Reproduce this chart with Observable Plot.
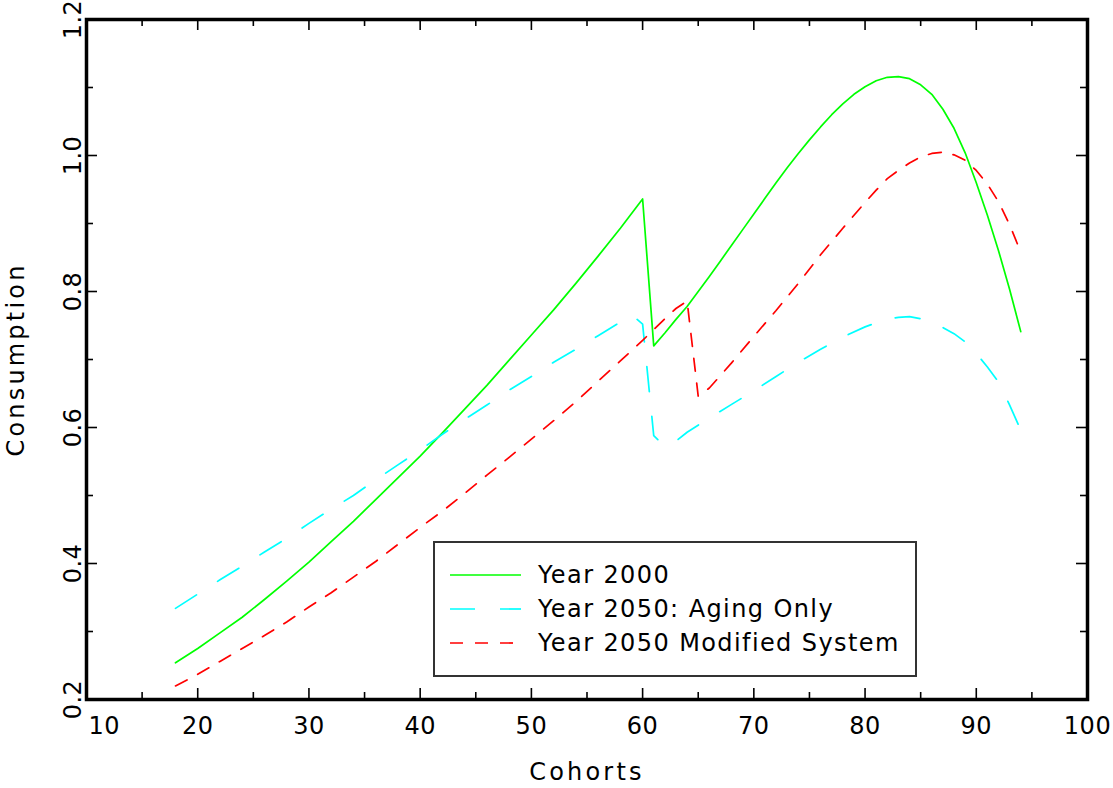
<!DOCTYPE html>
<html>
<head>
<meta charset="utf-8">
<script src="https://cdn.jsdelivr.net/npm/d3@7"></script>
<script src="https://cdn.jsdelivr.net/npm/@observablehq/plot@0.6"></script>
<style>
  body { margin: 0; background: #fff; }
  #wrap { position: relative; width: 1113px; height: 788px; }
  #legend { position: absolute; left: 433px; top: 541px; width: 484px; height: 136px; box-sizing: border-box;
            border: 2px solid #333; background: #fff; font-family: "DejaVu Sans", sans-serif; font-size: 24px; color: #000; }
  .row { position: absolute; left: 0; height: 30px; }
  .row svg { position: absolute; left: 15px; }
  .row span { position: absolute; left: 103px; white-space: nowrap; letter-spacing: 1.4px; line-height: 30px; }
</style>
</head>
<body>
<div id="wrap"><div id="chart"></div><div id="legend"></div></div>
<script>
// ---- data ----
const seriesNames = ["Year 2000", "Year 2050: Aging Only", "Year 2050 Modified System"];

const year2000Ages   = [18,20,22,24,26,28,30,32,34,36,38,40,42,44,46,48,50,52,54,56,58,60,61,62,63,64,65,66,67,68,69,70,71,72,73,74,75,76,77,78,79,80,81,82,83,84,85,86,87,88,89,90,91,92,93,94];
const year2000Values = [0.254,0.275,0.298,0.321,0.347,0.374,0.402,0.432,0.462,0.494,0.526,0.558,0.592,0.627,0.662,0.699,0.736,0.773,0.812,0.852,0.893,0.936,
                        0.720,0.739,0.759,0.778,0.800,0.822,0.845,0.868,0.891,0.914,0.937,0.960,0.982,1.003,1.023,1.042,1.060,1.076,1.090,1.101,1.110,1.115,1.116,1.113,1.104,1.090,1.068,1.040,1.004,0.960,0.912,0.860,0.803,0.741];

const aging2050Ages   = [18,20,22,24,26,28,30,32,34,36,38,40,42,44,46,48,50,52,54,56,58,59,60,61,62,63,64,66,68,70,72,74,76,78,80,81,82,83,84,85,86,87,88,89,90,91,92,93,94];
const aging2050Values = [0.334,0.355,0.376,0.396,0.417,0.437,0.459,0.480,0.500,0.523,0.545,0.567,0.590,0.612,0.633,0.655,0.675,0.696,0.715,0.735,0.755,0.766,0.752,0.588,0.572,0.580,0.593,0.614,0.634,0.654,0.675,0.696,0.715,0.733,0.748,0.754,0.759,0.762,0.763,0.760,0.755,0.747,0.738,0.726,0.709,0.689,0.667,0.633,0.596];

const modified2050Ages   = [18,20,22,24,26,28,30,32,34,36,38,40,42,44,46,48,50,52,54,56,58,60,62,63,64,65,66,68,70,72,74,76,78,80,81,82,83,84,85,86,87,88,89,90,91,92,93,94];
const modified2050Values = [0.220,0.237,0.256,0.275,0.294,0.314,0.336,0.357,0.380,0.403,0.428,0.453,0.477,0.503,0.530,0.556,0.583,0.610,0.638,0.668,0.698,0.728,0.760,0.775,0.786,0.646,0.658,0.695,0.734,0.772,0.812,0.854,0.893,0.931,0.949,0.966,0.978,0.989,0.998,1.003,1.005,1.001,0.993,0.978,0.958,0.932,0.898,0.858];

const xMajorTicks = [10,20,30,40,50,60,70,80,90,100];
const xMinorTicks = [15,25,35,45,55,65,75,85,95];
const yMajorTicks = [0.2,0.4,0.6,0.8,1.0,1.2];
const yMinorTicks = [0.3,0.5,0.7,0.9,1.1];
const xTickLabels = ["10","20","30","40","50","60","70","80","90","100"];
const yTickLabels = ["0.2","0.4","0.6","0.8","1.0","1.2"];
const xTitle = "Cohorts";
const yTitle = "Consumption";

// ---- styling ----
const styles = [
  {color: "#00ff00", dash: null},
  {color: "#00ffff", dash: "25,25"},
  {color: "#ff0000", dash: "13,12"}
];

const W = 1113, H = 788;
const mL = 86, mR = 26, mT = 19, mB = 89;
const plotW = W - mL - mR, plotH = H - mT - mB;

const toRows = (ages, vals) => ages.map((a, i) => ({age: a, value: vals[i]}));
const series = [
  toRows(year2000Ages, year2000Values),
  toRows(aging2050Ages, aging2050Values),
  toRows(modified2050Ages, modified2050Values)
];

const font = "DejaVu Sans, sans-serif";

const marks = [];
series.forEach((rows, i) => {
  marks.push(Plot.line(rows, {x: "age", y: "value", stroke: styles[i].color, strokeWidth: 1.7,
    strokeDasharray: styles[i].dash || undefined}));
});
// inward ticks on all four sides
marks.push(Plot.ruleX(xMajorTicks, {x: d => d, insetTop: plotH - 11, strokeWidth: 1.6, stroke: "#000"}));
marks.push(Plot.ruleX(xMajorTicks, {x: d => d, insetBottom: plotH - 11, strokeWidth: 1.6, stroke: "#000"}));
marks.push(Plot.ruleX(xMinorTicks, {x: d => d, insetTop: plotH - 7, strokeWidth: 1.6, stroke: "#000"}));
marks.push(Plot.ruleX(xMinorTicks, {x: d => d, insetBottom: plotH - 7, strokeWidth: 1.6, stroke: "#000"}));
marks.push(Plot.ruleY(yMajorTicks, {y: d => d, insetRight: plotW - 11, strokeWidth: 1.6, stroke: "#000"}));
marks.push(Plot.ruleY(yMajorTicks, {y: d => d, insetLeft: plotW - 11, strokeWidth: 1.6, stroke: "#000"}));
marks.push(Plot.ruleY(yMinorTicks, {y: d => d, insetRight: plotW - 7, strokeWidth: 1.6, stroke: "#000"}));
marks.push(Plot.ruleY(yMinorTicks, {y: d => d, insetLeft: plotW - 7, strokeWidth: 1.6, stroke: "#000"}));
marks.push(Plot.frame({stroke: "#000", strokeWidth: 3.5}));
// x tick labels
const xLab = xMajorTicks.map((v, i) => ({v, t: xTickLabels[i]}));
marks.push(Plot.text(xLab.slice(0, 1), {x: "v", text: "t", frameAnchor: "bottom", dy: 27, dx: 2,
  textAnchor: "start", lineAnchor: "middle", fontSize: 24, fill: "#000"}));
marks.push(Plot.text(xLab.slice(1), {x: "v", text: "t", frameAnchor: "bottom", dy: 27,
  textAnchor: "middle", lineAnchor: "middle", fontSize: 24, fill: "#000"}));
// y tick labels
const yLab = yMajorTicks.map((v, i) => ({v, t: yTickLabels[i]}));
marks.push(Plot.text(yLab, {y: "v", text: "t", frameAnchor: "left", dx: -6, rotate: -90,
  textAnchor: "middle", lineAnchor: "bottom", fontSize: 24, fill: "#000"}));
// titles
marks.push(Plot.text([xTitle], {text: d => d, frameAnchor: "bottom", dy: 73, lineAnchor: "middle",
  textAnchor: "middle", fontSize: 24, fill: "#000"}));
marks.push(Plot.text([yTitle], {text: d => d, frameAnchor: "left", dx: -70, rotate: -90, lineAnchor: "middle",
  textAnchor: "middle", fontSize: 24, fill: "#000"}));

const chart = Plot.plot({
  width: W, height: H,
  marginLeft: mL, marginRight: mR, marginTop: mT, marginBottom: mB,
  style: {fontFamily: font, background: "#fff", overflow: "visible"},
  x: {domain: [10, 100], axis: null},
  y: {domain: [0.2, 1.2], axis: null},
  marks
});
document.getElementById("chart").appendChild(chart);
const allText = d3.select(chart).selectAll("text");
allText.filter(function() { return this.textContent === xTitle || this.textContent === yTitle; })
  .style("letter-spacing", "3.2px");
allText.filter(function() { return this.textContent !== xTitle && this.textContent !== yTitle; })
  .style("letter-spacing", "0.5px");

// legend
const legend = document.getElementById("legend");
const rowCenters = [34, 68, 102];
seriesNames.forEach((name, i) => {
  const row = document.createElement("div");
  row.className = "row";
  row.style.top = (rowCenters[i] - 2 - 15) + "px";
  row.style.width = "100%";
  const s = d3.create("svg").attr("width", 71).attr("height", 4).style("top", "13px");
  s.append("line").attr("x1", 0).attr("x2", 71).attr("y1", 2).attr("y2", 2)
    .attr("stroke", styles[i].color).attr("stroke-width", 1.7)
    .attr("stroke-dasharray", styles[i].dash);
  row.appendChild(s.node());
  const sp = document.createElement("span");
  sp.textContent = name;
  row.appendChild(sp);
  legend.appendChild(row);
});
</script>
</body>
</html>
